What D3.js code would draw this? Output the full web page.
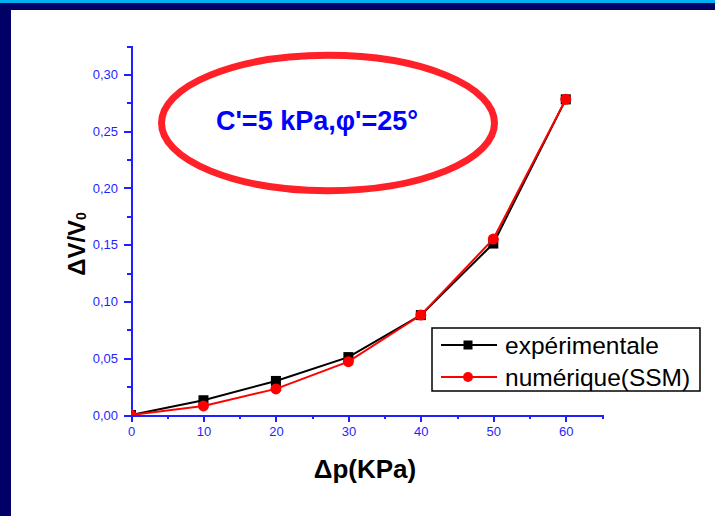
<!DOCTYPE html>
<meta charset="utf-8">
<html lang="fr">
<style>
    body {
        margin: 0;
        background: #fff;
        font-family: "Liberation Sans", Arial, sans-serif;
    }
    .axis path,
    .axis line {
        fill: none;
        stroke: #1f1fff;
        stroke-width: 2px;
        shape-rendering: crispEdges;
    }
    .axis text {
        fill: #1f1fff;
        font: 13px "Liberation Sans", Arial, sans-serif;
    }
</style>
<head>
    <script src="https://d3js.org/d3.v7.min.js"></script>
</head>
<body>
<svg width="715" height="516"></svg>
</body>
<script>

    // pression appliquée (kPa)
    var pressure = [0, 10, 20, 30, 40, 50, 60];
    // déformation volumique dV/V0
    var experimental = [0.000, 0.013, 0.030, 0.051, 0.088, 0.151, 0.278];
    var numerical = [0.000, 0.008, 0.023, 0.047, 0.088, 0.155, 0.278];

    var xTicks = [0, 10, 20, 30, 40, 50, 60];
    var xMinorTicks = [5, 15, 25, 35, 45, 55, 65];
    var yTicks = [0, 0.05, 0.10, 0.15, 0.20, 0.25, 0.30];
    var yMinorTicks = [0.025, 0.075, 0.125, 0.175, 0.225, 0.275, 0.325];

    var seriesNames = ["expérimentale", "numérique(SSM)"];
    var annotation = "C'=5 kPa,φ'=25°";

    var svg = d3.select("svg");

    // cadre de la diapo
    svg.append("rect").attr("x", 0).attr("y", 0).attr("width", 715).attr("height", 10).attr("fill", "#000066");
    svg.append("rect").attr("x", 0).attr("y", 0).attr("width", 715).attr("height", 3).attr("fill", "#00b0f0");
    svg.append("rect").attr("x", 0).attr("y", 3).attr("width", 11).attr("height", 513).attr("fill", "#000066");

    var x = d3.scaleLinear().domain([0, 65]).range([131, 602]);
    var y = d3.scaleLinear().domain([0, 0.325]).range([415, 46]);

    var fmt = function (d) {
        return d3.format(".2f")(d).replace(".", ",");
    };

    // minor ticks first
    svg.append("g")
        .attr("class", "axis")
        .attr("transform", "translate(0,415)")
        .call(d3.axisBottom(x).tickValues(xMinorTicks).tickSize(4).tickFormat(""));
    svg.append("g")
        .attr("class", "axis")
        .attr("transform", "translate(131,0)")
        .call(d3.axisLeft(y).tickValues(yMinorTicks).tickSize(4).tickFormat(""));

    svg.append("g")
        .attr("class", "axis")
        .attr("transform", "translate(0,415)")
        .call(d3.axisBottom(x).tickValues(xTicks).tickSize(7).tickSizeOuter(0).tickPadding(5));
    svg.append("g")
        .attr("class", "axis")
        .attr("transform", "translate(131,0)")
        .call(d3.axisLeft(y).tickValues(yTicks).tickSize(7).tickSizeOuter(0).tickPadding(6).tickFormat(fmt));

    // titres des axes
    svg.append("text")
        .attr("transform", "translate(85,244) rotate(-90)")
        .style("text-anchor", "middle")
        .style("font-weight", "bold")
        .style("font-size", "24px")
        .text("ΔV/V")
        .append("tspan")
        .style("font-size", "14px")
        .attr("dy", 1)
        .text("0");

    svg.append("text")
        .attr("x", 365)
        .attr("y", 478)
        .style("text-anchor", "middle")
        .style("font-weight", "bold")
        .style("font-size", "26px")
        .text("Δp(KPa)");

    // courbes
    svg.append("clipPath").attr("id", "plot")
        .append("rect").attr("x", 131).attr("y", 40).attr("width", 480).attr("height", 375);

    var line = d3.line()
        .x(function (d) { return x(d[0]); })
        .y(function (d) { return y(d[1]); });

    var expData = pressure.map(function (p, i) { return [p, experimental[i]]; });
    var numData = pressure.map(function (p, i) { return [p, numerical[i]]; });

    var plot = svg.append("g").attr("clip-path", "url(#plot)");

    plot.append("path").datum(expData)
        .attr("d", line).attr("fill", "none").attr("stroke", "#000").attr("stroke-width", 2);
    plot.selectAll(".sq").data(expData).enter().append("rect")
        .attr("class", "sq")
        .attr("x", function (d) { return x(d[0]) - 5; })
        .attr("y", function (d) { return y(d[1]) - 5; })
        .attr("width", 10).attr("height", 10)
        .attr("fill", "#000");

    plot.append("path").datum(numData)
        .attr("d", line).attr("fill", "none").attr("stroke", "#ff0000").attr("stroke-width", 2);
    plot.selectAll(".dot").data(numData).enter().append("circle")
        .attr("class", "dot")
        .attr("cx", function (d) { return x(d[0]); })
        .attr("cy", function (d) { return y(d[1]); })
        .attr("r", 5.5)
        .attr("fill", "#ff0000");

    // légende
    var legend = svg.append("g");
    legend.append("rect")
        .attr("x", 432).attr("y", 328).attr("width", 268).attr("height", 63)
        .attr("fill", "#fff").attr("stroke", "#000").attr("stroke-width", 1.5);

    var colors = ["#000", "#ff0000"];
    seriesNames.forEach(function (name, i) {
        var ly = 345 + i * 32;
        legend.append("line")
            .attr("x1", 441).attr("x2", 497).attr("y1", ly).attr("y2", ly)
            .attr("stroke", colors[i]).attr("stroke-width", 2);
        if (i === 0) {
            legend.append("rect").attr("x", 463.5).attr("y", ly - 4.5).attr("width", 9).attr("height", 9).attr("fill", "#000");
        } else {
            legend.append("circle").attr("cx", 468).attr("cy", ly).attr("r", 5).attr("fill", "#ff0000");
        }
        legend.append("text")
            .attr("x", 505).attr("y", ly + 9)
            .style("font-size", "24.5px")
            .text(name);
    });

    // ellipse d'annotation
    svg.append("ellipse")
        .attr("cx", 328).attr("cy", 123).attr("rx", 166.5).attr("ry", 67.7)
        .attr("fill", "none").attr("stroke", "#ff2028").attr("stroke-width", 7);
    svg.append("text")
        .attr("x", 317).attr("y", 130)
        .style("text-anchor", "middle")
        .style("font-weight", "bold")
        .style("font-size", "27px")
        .style("fill", "#0000ff")
        .text(annotation);

</script>
</html>
